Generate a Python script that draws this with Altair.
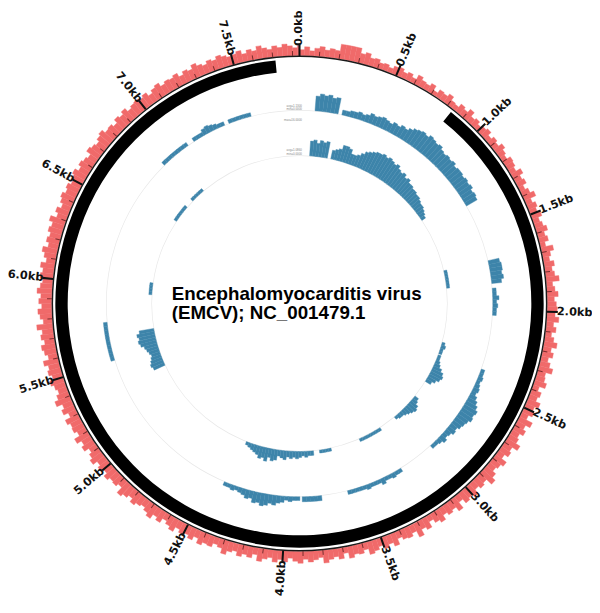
import math
import altair as alt
import pandas as pd

GENOME_LEN = 7835
RED_BIN = 25
BLUE_BIN = 25
CDS_START, CDS_END = 834, 7712

# outer red track, one value per 25 bp bin
red_values = [
    6, 9, 5, 8, 10, 7, 9, 8, 15, 15, 15, 15, 10, 12, 8, 9, 6, 7, 5, 8,
    9, 6, 8, 5, 10, 7, 6, 9, 4, 8, 7, 10, 6, 5, 9, 7, 11, 6, 8, 5,
    7, 9, 5, 8, 6, 10, 7, 5, 9, 8, 6, 11, 7, 9, 5, 8, 12, 6, 9, 7,
    10, 6, 8, 11, 7, 9, 5, 12, 8, 6, 10, 7, 9, 13, 6, 8, 11, 7, 9, 10,
    8, 12, 7, 10, 6, 9, 13, 8, 11, 7, 10, 14, 8, 9, 12, 6, 10, 8, 13, 9,
    11, 7, 14, 9, 12, 8, 10, 15, 9, 11, 7, 13, 10, 8, 12, 16, 9, 11, 8, 13,
    10, 12, 7, 14, 9, 11, 8, 13, 10, 6, 12, 9, 15, 8, 11, 10, 7, 13, 9, 12,
    8, 11, 13, 7, 10, 9, 12, 6, 11, 8, 10, 13, 7, 9, 11, 8, 12, 10, 7, 11,
    9, 12, 8, 10, 13, 7, 11, 9, 12, 8, 10, 14, 9, 7, 11, 10, 13, 8, 12, 9,
    11, 8, 13, 10, 7, 12, 9, 14, 11, 8, 10, 13, 9, 12, 15, 8, 11, 10, 13, 9,
    12, 9, 14, 11, 8, 13, 10, 15, 9, 12, 11, 14, 8, 13, 10, 16, 12, 9, 11, 14,
    10, 13, 11, 15, 9, 12, 14, 10, 13, 11, 16, 9, 12, 14, 10, 13, 11, 15, 12, 10,
    13, 11, 14, 9, 12, 15, 10, 13, 11, 14, 12, 16, 10, 13, 9, 12, 14, 11, 13, 10,
    12, 14, 10, 13, 11, 9, 14, 12, 10, 13, 15, 11, 12, 9, 13, 11, 14, 10, 12, 13,
    11, 13, 9, 12, 14, 10, 12, 11, 13, 9, 12, 10, 14, 11, 9, 12, 10, 13, 11, 9,
    10, 12, 8, 11, 9, 13, 10, 8, 11, 9, 12, 10, 8, 10,
]

# outer blue track: segment starts (bp) and 25 bp bin values
a_starts = [100, 275, 1680, 1860, 2390, 3230, 3775, 3915, 5505, 6870, 7115, 7370]
a_values = [
    [12, 14, 13, 14, 12, 13],
    [4, 4, 5, 5, 6, 5, 6, 8, 7, 8, 9, 8, 7, 9, 8, 10, 9, 11, 13, 14, 15,
     14, 16, 15, 14, 15, 13, 12, 13, 12, 13, 11, 12, 12, 11, 12, 11, 12, 10, 11, 10],
    [9, 10, 10, 9, 10, 8],
    [3, 3, 5, 3, 4, 3, 3],
    [3, 3, 4, 3, 4, 5, 4, 6, 8, 10, 12, 11, 12, 10, 9, 8, 6, 7, 5, 4, 6, 4, 3, 3],
    [3, 3, 4, 3, 3, 5, 3, 3, 3, 4, 3, 3, 3, 3, 3],
    [4, 4, 4, 4, 4],
    [3, 3, 4, 3, 5, 6, 8, 7, 9, 10, 8, 9, 6, 7, 5, 4, 3, 4, 3, 3],
    [3, 3, 3, 3, 3, 3, 3, 3, 3, 3],
    [3, 3, 3, 3, 3, 3, 3, 3],
    [3, 3, 3, 5, 6, 5, 4, 3, 3],
    [3, 3, 3, 3, 3, 3],
]

# inner blue track
b_starts = [85, 265, 1680, 2290, 2400, 2800, 3200, 3650, 3800, 5340, 5950, 6610, 6830]
b_values = [
    [10, 11, 9, 11, 10, 11],
    [6, 7, 8, 11, 11, 10, 7, 7, 8, 10, 12, 13, 14, 15, 15, 16, 15, 16, 15,
     14, 15, 13, 12, 13, 11, 12, 10, 10, 9, 9, 8, 8, 7, 6, 6, 5, 4, 3],
    [2, 2, 2, 2, 2, 2],
    [2, 3, 2, 2],
    [2, 2, 3, 4, 6, 8, 9, 8, 6, 4],
    [3, 4, 6, 7, 6, 5, 4, 3, 3, 2],
    [2, 2, 2, 2, 2, 2, 2, 2],
    [2, 2, 2, 2],
    [3, 3, 4, 3, 4, 5, 4, 5, 4, 6, 5, 4, 7, 8, 6, 9, 7, 8, 6, 5, 4, 3, 2],
    [8, 9, 8, 7, 6, 7, 8, 9, 11, 12, 11, 12, 10],
    [2, 2, 2, 2],
    [2, 2, 2, 2, 2, 2],
    [2, 2, 2, 2, 2],
]

major_ticks = [0, 500, 1000, 1500, 2000, 2500, 3000, 3500, 4000, 4500, 5000, 5500, 6000, 6500, 7000, 7500]
tick_labels = ["0.0kb", "0.5kb", "1.0kb", "1.5kb", "2.0kb", "2.5kb", "3.0kb", "3.5kb",
               "4.0kb", "4.5kb", "5.0kb", "5.5kb", "6.0kb", "6.5kb", "7.0kb", "7.5kb"]
minor_ticks = [p for p in range(0, GENOME_LEN, 100) if p % 500 != 0]

title_lines = ["Encephalomyocarditis virus", "(EMCV); NC_001479.1"]

# ---------------- tables ----------------
red_df = pd.DataFrame({
    "start": [i * RED_BIN for i in range(len(red_values))],
    "end": [min((i + 1) * RED_BIN, GENOME_LEN) for i in range(len(red_values))],
    "val": red_values,
})


def blue_table(starts, values):
    rows = []
    for s, vals in zip(starts, values):
        for j, v in enumerate(vals):
            rows.append({"start": s + j * BLUE_BIN, "end": s + (j + 1) * BLUE_BIN, "val": v})
    return pd.DataFrame(rows)


a_df = blue_table(a_starts, a_values)
b_df = blue_table(b_starts, b_values)

theta_scale = alt.Scale(domain=[0, GENOME_LEN], range=[0, 2 * math.pi])

RED = "#f06a6a"
BLUE = "#3d84aa"


def bar_track(df, color, r0, r1, vmax):
    return alt.Chart(df).mark_arc(color=color, stroke=color, strokeWidth=0.4).encode(
        theta=alt.Theta("start:Q", scale=theta_scale, stack=None),
        theta2="end:Q",
        radius=alt.Radius("val:Q", scale=alt.Scale(type="linear", domain=[0, vmax], range=[r0, r1])),
        radius2=alt.value(r0),
    )


def ring(start, end, r_in, r_out, color):
    df = pd.DataFrame({"start": [start], "end": [end]})
    return alt.Chart(df).mark_arc(color=color).encode(
        theta=alt.Theta("start:Q", scale=theta_scale, stack=None),
        theta2="end:Q",
        radius=alt.value(r_out),
        radius2=alt.value(r_in),
    )


def tick_layer(positions, half, r_in, r_out, color):
    df = pd.DataFrame({"pos": positions})
    return alt.Chart(df).transform_calculate(
        s=f"datum.pos - {half}", e=f"datum.pos + {half}"
    ).mark_arc(color=color).encode(
        theta=alt.Theta("s:Q", scale=theta_scale, stack=None),
        theta2="e:Q",
        radius=alt.value(r_out),
        radius2=alt.value(r_in),
    )


lab_df = pd.DataFrame({"pos": major_ticks, "label": tick_labels})
lab_df["deg"] = lab_df["pos"] / GENOME_LEN * 360.0
right_df = lab_df[lab_df["deg"] < 180].copy()
right_df["ang"] = (right_df["deg"] - 90) % 360
left_df = lab_df[lab_df["deg"] >= 180].copy()
left_df["ang"] = (left_df["deg"] + 90) % 360


def label_layer(df, align):
    return alt.Chart(df).mark_text(
        align=align, baseline="middle", font="DejaVu Sans", fontWeight="bold",
        fontSize=11.5, color="#111"
    ).encode(
        theta=alt.Theta("pos:Q", scale=theta_scale, stack=None),
        radius=alt.value(261),
        angle=alt.Angle("ang:Q", scale=None),
        text="label:N",
    )


title = alt.Chart(pd.DataFrame({"t": [title_lines]})).mark_text(
    align="left", baseline="alphabetic", font="Liberation Sans", fontWeight="bold",
    fontSize=19, lineHeight=19.5, color="#000"
).encode(x=alt.value(166), y=alt.value(292), text="t")

small1 = alt.Chart(pd.DataFrame({"t": [["avg=1.1300", "min=0.0000"]]})).mark_text(
    align="right", fontSize=3, color="#888", lineHeight=3.5
).encode(x=alt.value(298), y=alt.value(95), text="t")
small2 = alt.Chart(pd.DataFrame({"t": ["max=16.0000"]})).mark_text(
    align="right", fontSize=3, color="#888"
).encode(x=alt.value(298), y=alt.value(110), text="t")
small3 = alt.Chart(pd.DataFrame({"t": [["avg=1.0860", "min=0.0000"]]})).mark_text(
    align="right", fontSize=3, color="#888", lineHeight=3.5
).encode(x=alt.value(298), y=alt.value(140), text="t")

layers = [
    ring(0, GENOME_LEN, 149.5, 150.2, "#e8e8e8"),
    ring(0, GENOME_LEN, 195.5, 196.2, "#e8e8e8"),
    bar_track(b_df, BLUE, 150, 174, 16),
    bar_track(a_df, BLUE, 196, 216, 16),
    ring(CDS_START, CDS_END, 235, 247.5, "#000"),
    bar_track(red_df, RED, 251.3, 267.3, 16),
    ring(0, GENOME_LEN, 249.8, 251.3, "#1a1a1a"),
    tick_layer(minor_ticks, 2.5, 251, 256, "#7a2c2c"),
    tick_layer(major_ticks, 5, 251, 262, "#111"),
    label_layer(right_df, "left"),
    label_layer(left_df, "right"),
    title, small1, small2, small3,
]

chart = alt.layer(*layers).resolve_scale(radius="independent").properties(
    width=591, height=591,
    autosize=alt.AutoSizeParams(type="none"),
    padding={"left": 0, "top": 0, "right": 1, "bottom": 0},
).configure_view(stroke=None)

chart.save("out.html", embed_options={"renderer": "svg", "actions": False})
